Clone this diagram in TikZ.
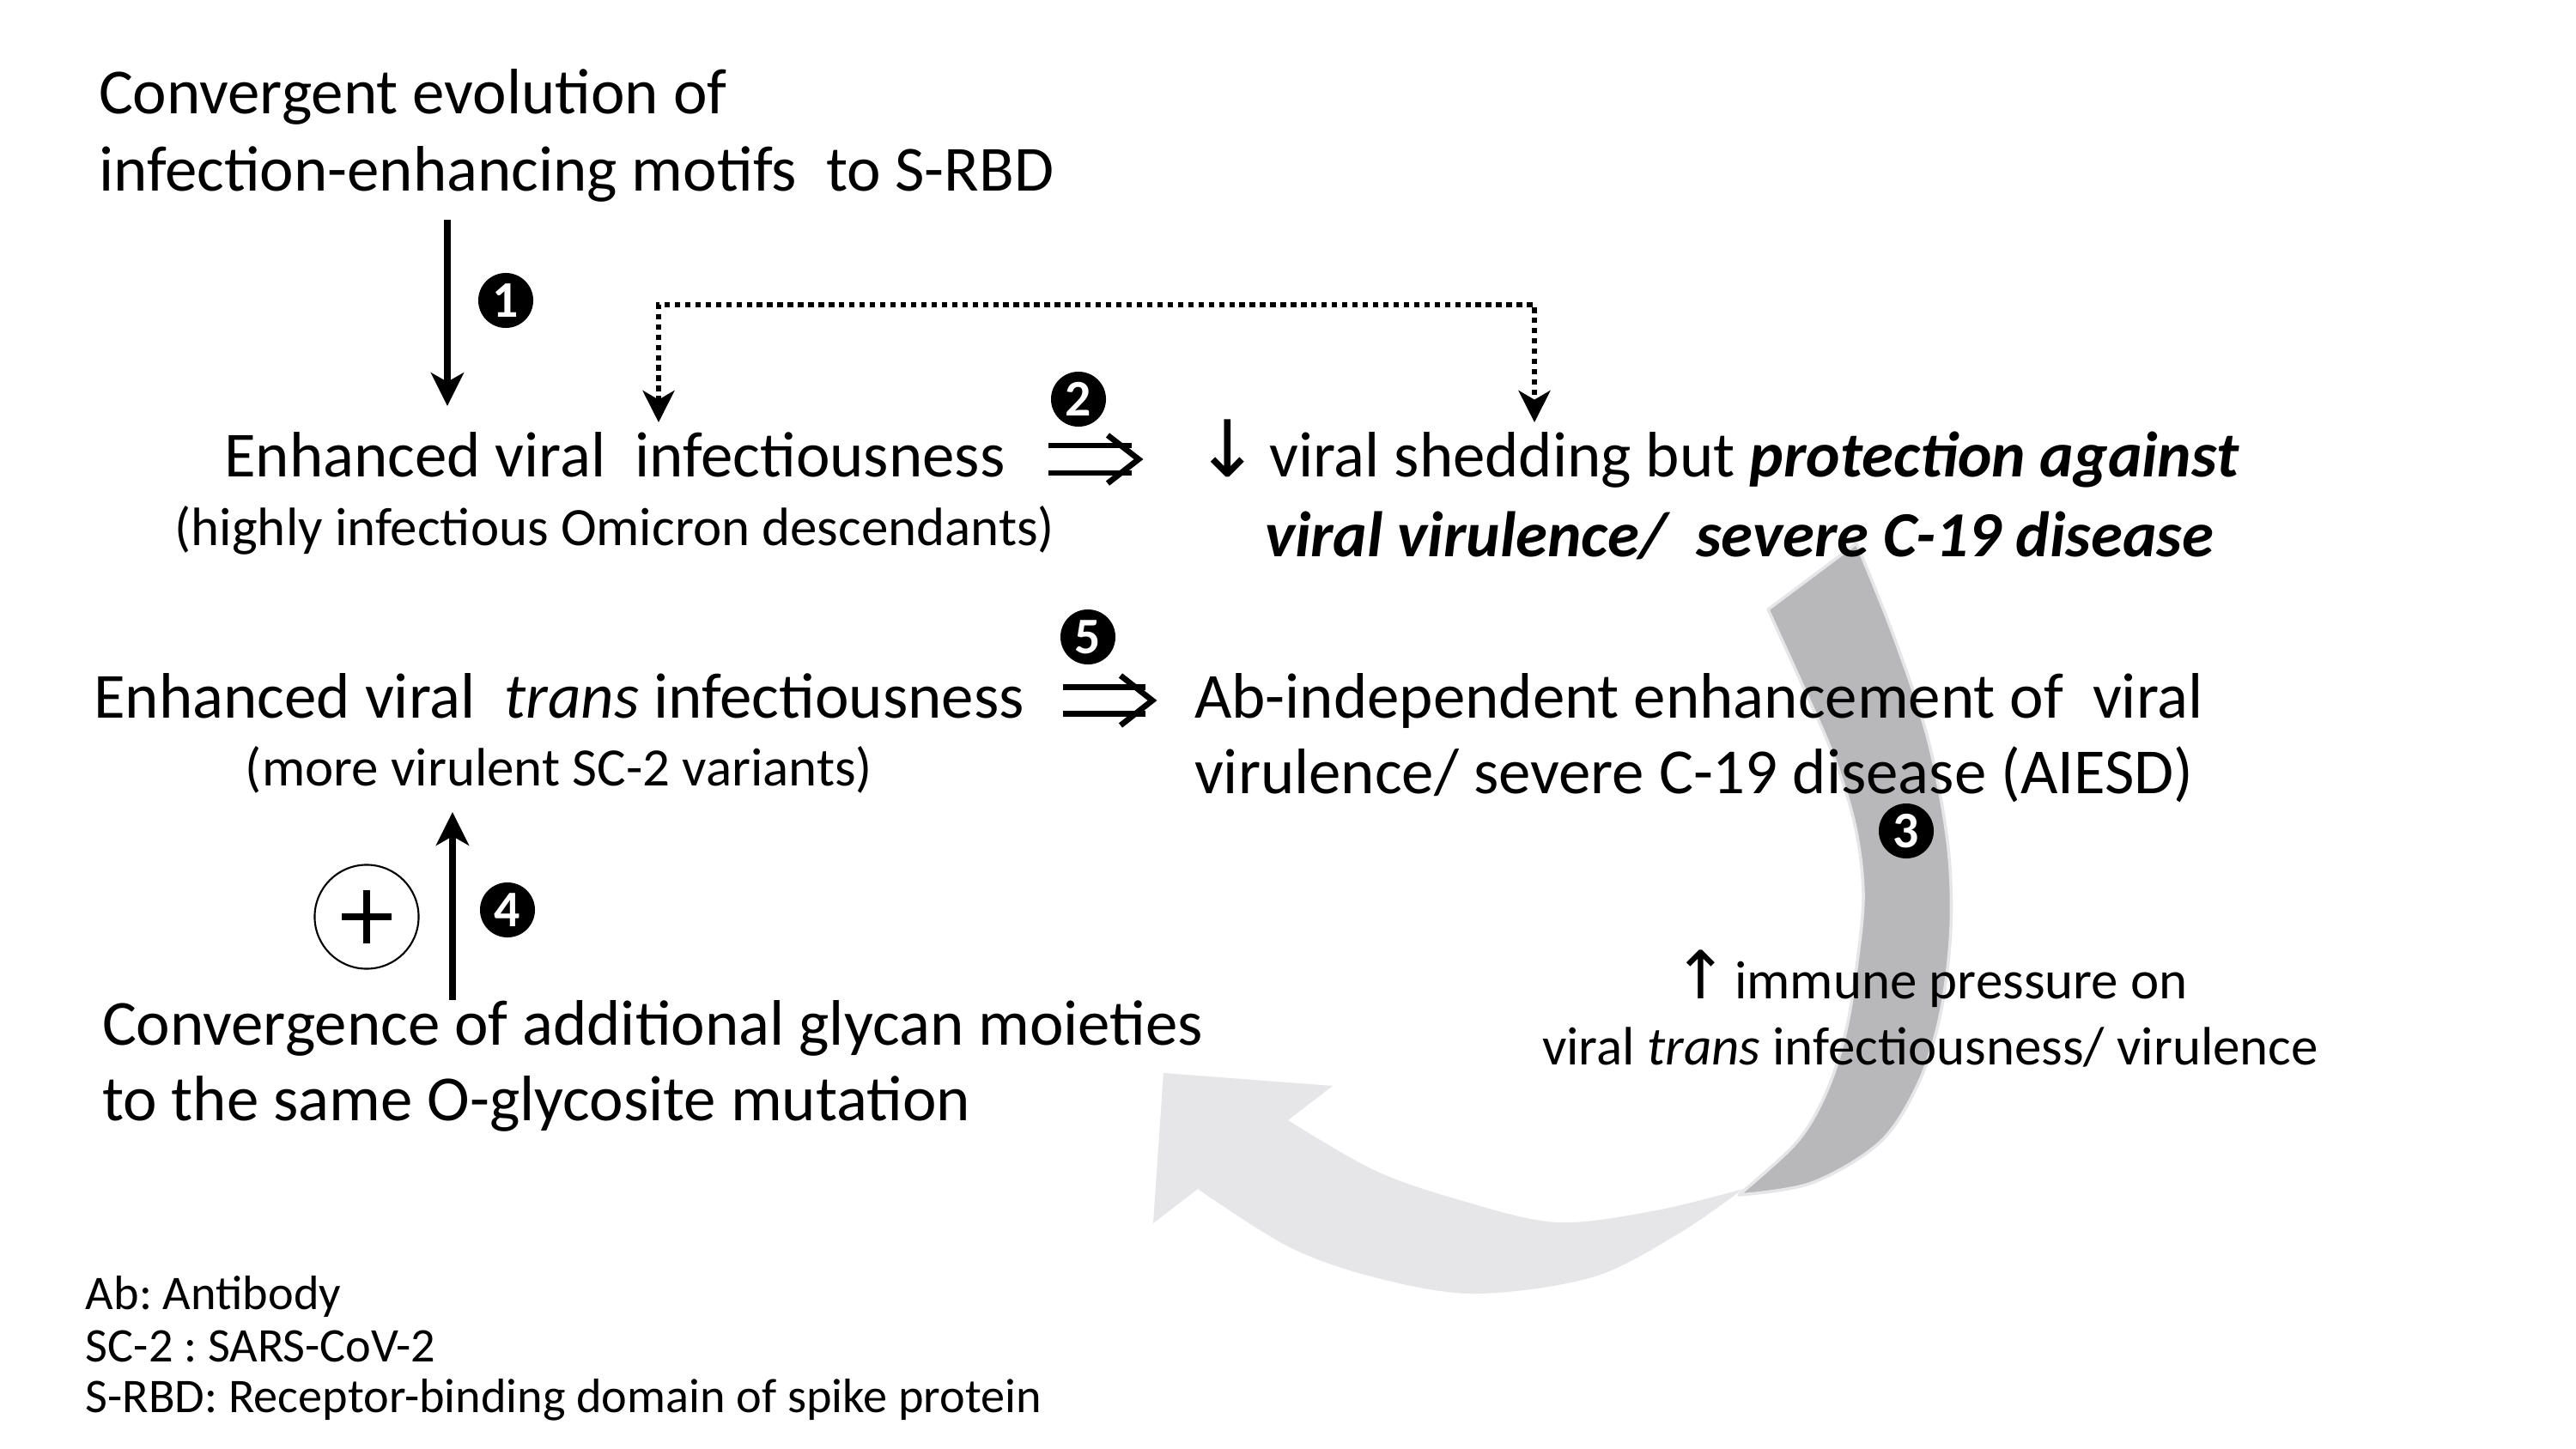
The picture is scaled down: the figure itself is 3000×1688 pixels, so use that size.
\documentclass[tikz,border=0pt]{standalone}
\usepackage{fontspec}
\setmainfont{Carlito}
\newfontfamily\arrowfont{DejaVu Sans}
\usetikzlibrary{arrows.meta}
\definecolor{arcdark}{RGB}{184,183,185}
\definecolor{arclight}{RGB}{230,229,231}
\frenchspacing
\newcommand{\dnarrow}{{\arrowfont\fontsize{26}{26}\selectfont ↓}}
\newcommand{\uparrowglyph}{{\arrowfont\fontsize{22}{22}\selectfont ↑}}
\begin{document}
\begin{tikzpicture}[x=0.01cm,y=-0.01cm,
  every node/.style={inner sep=0pt, outer sep=0pt},
  maintxt/.style={font=\fontsize{21.3}{26}\selectfont},
  subtxt/.style={font=\fontsize{17.9}{21.9}\selectfont},
  foottxt/.style={font=\fontsize{16}{17.1}\selectfont},
  badge/.style={circle, fill=black, minimum size=0.64cm, text=white, font=\fontsize{17}{17}\selectfont\bfseries},
  solidarrow/.style={line width=2pt, -{Stealth[length=11pt, width=10.8pt, inset=3pt]}},
  dotarrow/.style={line width=1.8pt, dash pattern=on 1.8pt off 1.6pt, {Stealth[length=10.5pt,width=10.5pt,inset=3pt]}-{Stealth[length=10.5pt,width=10.5pt,inset=3pt]}},
  dblline/.style={line width=1.9pt},
  chev/.style={line width=1.9pt, line join=miter},
]
\useasboundingbox (0,0) rectangle (3000,1688);
\fill[white] (0,0) rectangle (3000,1688);

% big curved arrow
\fill[arclight] (1500,1305) -- (1552,1265) -- (1355,1250) -- (1343,1425) -- (1395,1385)
 -- plot[smooth, tension=0.55] coordinates {(1395,1385) (1500,1452) (1601,1488) (1717,1507) (1854,1488) (1955,1437) (2030,1385)}
 -- plot[smooth, tension=0.55] coordinates {(2030,1385) (1929,1410) (1813,1424) (1700,1398) (1600,1363) (1500,1305)}
 -- cycle;
\filldraw[fill=arcdark, draw=arclight, line width=1pt, line join=round]
 (2059,710) -- (2162,633)
 -- plot[smooth, tension=0.55] coordinates {(2162,633) (2205,740) (2245,860) (2268,980) (2272,1080) (2260,1180) (2235,1260) (2190,1330) (2110,1378) (2025,1392)}
 -- plot[smooth, tension=0.55] coordinates {(2025,1392) (2093,1330) (2128,1270) (2150,1200) (2163,1120) (2170,1040) (2160,960) (2135,880) (2100,800) (2059,710)}
 -- cycle;

% texts
\node[maintxt, anchor=base west] (conv1) at (115,133) {Convergent evolution of};
\node[maintxt, anchor=base west] (conv2) at (115,222) {infection-enhancing motifs~ to S-RBD};
\node[maintxt, anchor=base] (inf1) at (716,555) {Enhanced viral~ infectiousness};
\node[subtxt, anchor=base] (inf2) at (716,635) {(highly infectious Omicron descendants)};
\node[maintxt, anchor=base west] (prot1) at (1391,555) {\dnarrow\hspace{3pt}viral shedding but \textbf{\textit{protection against}}};
\node[maintxt, anchor=base west] (prot2) at (1473,648) {\textbf{\textit{viral virulence/~ severe C-19 disease}}};
\node[maintxt, anchor=base] (trans1) at (651,836) {Enhanced viral~ \textit{trans} infectiousness};
\node[subtxt, anchor=base] (trans2) at (651,915) {(more virulent SC-2 variants)};
\node[maintxt, anchor=base west] (aiesd1) at (1391,836) {Ab-independent enhancement of~ viral};
\node[maintxt, anchor=base west] (aiesd2) at (1391,924) {virulence/ severe C-19 disease (AIESD)};
\node[maintxt, anchor=base west] (glyc1) at (119,1217) {Convergence of additional glycan moieties};
\node[maintxt, anchor=base west] (glyc2) at (119,1305) {to the same O-glycosite mutation};
\node[subtxt, anchor=base] (imm1) at (2248,1163) {\uparrowglyph\hspace{2pt}immune pressure on};
\node[subtxt, anchor=base] (imm2) at (2248,1240) {viral \textit{trans} infectiousness/ virulence};
\node[foottxt, anchor=base west] (f1) at (100,1525) {Ab: Antibody};
\node[foottxt, anchor=base west] (f2) at (100,1586) {SC-2 : SARS-CoV-2};
\node[foottxt, anchor=base west] (f3) at (100,1645) {S-RBD: Receptor-binding domain of spike protein};

% badges
\node[badge] (b1) at (589,350) {1};
\node[badge] (b2) at (1256,465) {2};
\node[badge] (b3) at (2220,968) {3};
\node[badge] (b4) at (591,1060) {4};
\node[badge] (b5) at (1267,742) {5};

% arrow 1
\coordinate (a1s) at (521,256);
\coordinate (a1e) at (521,473);
\draw[solidarrow] (a1s) -- (a1e);

% arrow 4
\coordinate (a4s) at (527,1165);
\coordinate (a4e) at (527,946);
\draw[solidarrow] (a4s) -- (a4e);

% dotted connector
\coordinate (dl) at (767,492);
\coordinate (dr) at (1787,492);
\draw[dotarrow] (dl) -- (767,355) -- (1787,355) -- (dr);

% double arrow 2
\coordinate (d2s) at (1221,535);
\coordinate (d2e) at (1318,535);
\coordinate (d2t) at (1326,535);
\draw[dblline] ([yshift=0.16cm]d2s) -- ([yshift=0.16cm]d2e);
\draw[dblline] ([yshift=-0.16cm]d2s) -- ([yshift=-0.16cm]d2e);
\draw[chev] ([xshift=-0.36cm,yshift=0.28cm]d2t) -- (d2t) -- ([xshift=-0.36cm,yshift=-0.28cm]d2t);

% double arrow 5
\coordinate (d5s) at (1238,816);
\coordinate (d5e) at (1334,816);
\coordinate (d5t) at (1342,816);
\draw[dblline] ([yshift=0.155cm]d5s) -- ([yshift=0.155cm]d5e);
\draw[dblline] ([yshift=-0.155cm]d5s) -- ([yshift=-0.155cm]d5e);
\draw[chev] ([xshift=-0.37cm,yshift=0.29cm]d5t) -- (d5t) -- ([xshift=-0.37cm,yshift=-0.29cm]d5t);

% plus circle
\node[circle, draw, line width=0.6pt, minimum size=1.21cm] (plus) at (427,1068) {};
\draw[line width=2.4pt] ([xshift=-0.29cm]plus.center) -- ([xshift=0.29cm]plus.center);
\draw[line width=2.4pt] ([yshift=-0.31cm]plus.center) -- ([yshift=0.31cm]plus.center);
\end{tikzpicture}
\end{document}
